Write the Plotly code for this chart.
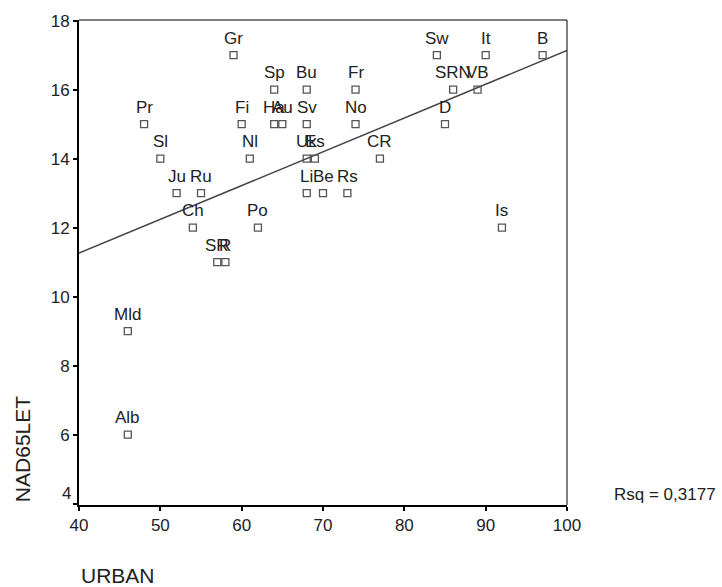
import numpy as np
import plotly.graph_objects as go

labels = ["Gr", "Sp", "Bu", "Pr", "Fi", "Ha", "Au", "Sv", "Sl", "Nl", "Uk", "Es",
          "Ju", "Ru", "Li", "Be", "Rs", "Ch", "Po", "SR", "R", "Fr", "No", "CR",
          "Sw", "It", "B", "SRN", "VB", "D", "Is", "Mld", "Alb"]
urban = [59, 64, 68, 48, 60, 64, 65, 68, 50, 61, 68, 69,
         52, 55, 68, 70, 73, 54, 62, 57, 58, 74, 74, 77,
         84, 90, 97, 86, 89, 85, 92, 46, 46]
nad65 = [17, 16, 16, 15, 15, 15, 15, 15, 14, 14, 14, 14,
         13, 13, 13, 13, 13, 12, 12, 11, 11, 16, 15, 14,
         17, 17, 17, 16, 16, 15, 12, 9, 6]
x_ticks = [40, 50, 60, 70, 80, 90, 100]
y_ticks = [4, 6, 8, 10, 12, 14, 16, 18]
y_ticktext = ["", "6", "8", "10", "12", "14", "16", "18"]
rsq_text = "Rsq = 0,3177"

slope, intercept = np.polyfit(urban, nad65, 1)
fit_x = [40, 100]
fit_y = [intercept + slope * v for v in fit_x]

FONT = "Liberation Sans, Arial, sans-serif"
TXT = "#222222"

fig = go.Figure()
fig.add_trace(go.Scatter(x=fit_x, y=fit_y, mode="lines",
                         line=dict(color="#444444", width=1.5),
                         hoverinfo="skip", showlegend=False))
fig.add_trace(go.Scatter(x=urban, y=nad65, mode="markers",
                         marker=dict(symbol="square-open", size=7,
                                     color="#555555", line=dict(width=1.3)),
                         showlegend=False))

annotations = [
    dict(x=xv, y=yv, text=lab, xref="x", yref="y", showarrow=False,
         xanchor="center", yanchor="middle", yshift=17,
         font=dict(family=FONT, size=17, color=TXT))
    for lab, xv, yv in zip(labels, urban, nad65)
]
annotations += [
    # lowest y tick label sits slightly above the axis corner, as in the original
    dict(text="4", xref="paper", yref="y", x=0, y=y_ticks[0], xanchor="right",
         yanchor="middle", xshift=-6, yshift=10, showarrow=False,
         font=dict(family=FONT, size=17, color=TXT)),
    dict(text=rsq_text, xref="paper", yref="paper", x=1.092, y=0.021,
         xanchor="left", yanchor="middle", showarrow=False,
         font=dict(family=FONT, size=17, color=TXT)),
    dict(text="URBAN", xref="paper", yref="paper", x=0, y=-0.146,
         xanchor="left", yanchor="middle", showarrow=False,
         font=dict(family=FONT, size=21, color=TXT)),
    dict(text="NAD65LET", xref="paper", yref="paper", x=-0.117, y=0.115,
         xanchor="center", yanchor="middle", textangle=-90, showarrow=False,
         font=dict(family=FONT, size=21, color=TXT)),
]

axis_common = dict(ticks="outside", ticklen=4, tickwidth=2, tickcolor="black",
                   showgrid=False, zeroline=False, showline=True,
                   linecolor="black", linewidth=2, mirror=False,
                   tickfont=dict(family=FONT, size=17, color=TXT))

fig.update_layout(
    width=722, height=587,
    margin=dict(l=79, r=155, t=20, b=82),
    paper_bgcolor="white", plot_bgcolor="white",
    font=dict(family=FONT, size=17, color=TXT),
    xaxis=dict(range=[40, 100], tickvals=x_ticks, **axis_common),
    yaxis=dict(range=[3.96, 18.02], tickvals=y_ticks, ticktext=y_ticktext,
               **axis_common),
    shapes=[
        dict(type="line", xref="paper", yref="paper", x0=0, x1=1, y0=1, y1=1,
             line=dict(color="black", width=1)),
        dict(type="line", xref="paper", yref="paper", x0=1, x1=1, y0=0, y1=1,
             line=dict(color="black", width=1)),
    ],
    annotations=annotations,
)

fig.write_html("out.html",
               config={"displayModeBar": False},
               post_script="document.body.style.margin='0';"
                           "document.body.style.padding='0';")
